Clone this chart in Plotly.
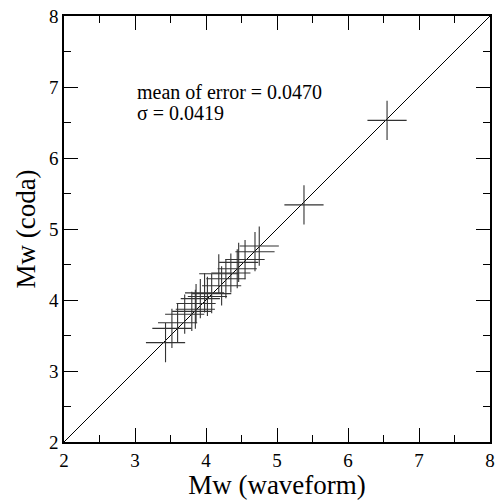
import plotly.graph_objects as go

mw_waveform = [3.43, 3.52, 3.60, 3.70, 3.80, 3.85, 3.86, 3.92, 3.98, 4.02, 4.08,
               4.18, 4.22, 4.28, 4.35, 4.44, 4.46, 4.55, 4.69, 4.75, 5.38, 6.55]
mw_coda = [3.40, 3.60, 3.68, 3.80, 3.84, 3.87, 3.95, 4.02, 4.10, 4.05, 4.09,
           4.37, 4.20, 4.30, 4.38, 4.44, 4.53, 4.57, 4.68, 4.76, 5.34, 6.53]
diag = [2, 8]
stats_text = ["mean of error = 0.0470", "σ = 0.0419"]

font_family = "Liberation Serif, Times New Roman, serif"

fig = go.Figure()
fig.add_trace(go.Scatter(x=diag, y=diag, mode="lines",
                         line=dict(color="black", width=1), showlegend=False))
fig.add_trace(go.Scatter(x=mw_waveform, y=mw_coda, mode="markers",
                         marker=dict(symbol="cross-thin-open", size=28, color="#333",
                                     line=dict(color="#333", width=1.1)),
                         showlegend=False))

axis_common = dict(
    range=[2, 8], dtick=1, ticks="inside", ticklen=14, tickwidth=1.2,
    tickcolor="black", showline=True, linecolor="black", linewidth=1.5,
    mirror="ticks", showgrid=False, zeroline=False, automargin=False,
    ticklabeloverflow="allow",
    tickfont=dict(family=font_family, size=19, color="black"),
    minor=dict(dtick=0.5, ticks="inside", ticklen=7, tickwidth=1.2,
               tickcolor="black", showgrid=False),
)

fig.update_xaxes(**axis_common,
                 title=dict(text="Mw (waveform)", standoff=4,
                            font=dict(family=font_family, size=27, color="black")))
fig.update_yaxes(**axis_common,
                 title=dict(text="Mw (coda)", standoff=6,
                            font=dict(family=font_family, size=27, color="black")))

fig.add_annotation(x=3.0, y=6.93, xref="x", yref="y", text=stats_text[0],
                   showarrow=False, xanchor="left", yanchor="middle",
                   font=dict(family=font_family, size=20, color="black"))
fig.add_annotation(x=3.0, y=6.63, xref="x", yref="y", text=stats_text[1],
                   showarrow=False, xanchor="left", yanchor="middle",
                   font=dict(family=font_family, size=20, color="black"))

fig.update_layout(width=495, height=500,
                  margin=dict(l=64, r=5, t=16, b=58, autoexpand=False),
                  plot_bgcolor="white", paper_bgcolor="white")

fig.write_html("out.html",
               config={"displayModeBar": False},
               post_script="document.body.style.margin='0';"
                           "document.body.style.overflow='hidden';")
